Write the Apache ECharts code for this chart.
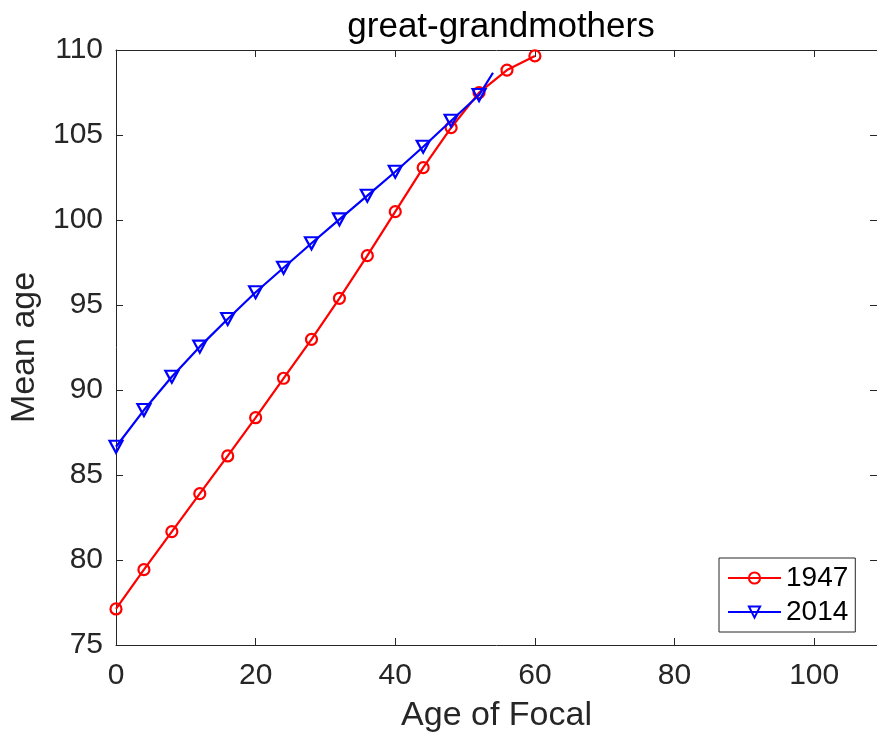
<!DOCTYPE html>
<html>
<head>
<meta charset="utf-8">
<script src="https://cdn.jsdelivr.net/npm/echarts@6/dist/echarts.min.js"></script>
<style>html,body{margin:0;padding:0;background:#fff}#c{width:877px;height:740px}</style>
</head>
<body>
<div id="c"></div>
<script>
const ages1947 = [0, 4, 8, 12, 16, 20, 24, 28, 32, 36, 40, 44, 48, 52, 56, 60];
const vals1947 = [77.12, 79.43, 81.67, 83.9, 86.12, 88.37, 90.69, 92.98, 95.39, 97.9, 100.49, 103.08, 105.43, 107.49, 108.82, 109.65];
const ages2014 = [0, 4, 8, 12, 16, 20, 24, 28, 32, 36, 40, 44, 48, 52];
const vals2014 = [86.66, 88.82, 90.78, 92.55, 94.18, 95.75, 97.19, 98.63, 100.04, 101.43, 102.84, 104.31, 105.84, 107.35];
const end2014 = [54, 108.66];
const seriesNames = ['1947', '2014'];
const xTicks = [0, 20, 40, 60, 80, 100];
const yTicks = [75, 80, 85, 90, 95, 100, 105, 110];

const FONT = "'Liberation Sans', Arial, Helvetica, sans-serif";
const AX = '#262626';

const d1947 = ages1947.map((a, i) => [a, vals1947[i]]);
const d2014 = ages2014.map((a, i) => [a, vals2014[i]]);
d2014.push({ value: end2014, symbol: 'none' });

const chart = echarts.init(document.getElementById('c'), null, { renderer: 'canvas' });
const axisCommon = {
  axisLine: { show: true, onZero: false, lineStyle: { color: AX, width: 1 } },
  axisTick: { show: true, inside: true, length: 7, lineStyle: { color: AX, width: 1 } },
  splitLine: { show: false }
};
chart.setOption({
  animation: false,
  backgroundColor: '#fff',
  title: {
    text: 'great-grandmothers',
    left: 496, top: 5, textAlign: 'center',
    textStyle: { fontFamily: FONT, fontSize: 35, fontWeight: 'normal', color: '#000' }
  },
  grid: { left: 116, right: 0, top: 50, bottom: 95, containLabel: false, outerBoundsMode: 'none' },
  legend: {
    orient: 'vertical', left: 719, top: 558,
    data: seriesNames,
    backgroundColor: '#fff', borderColor: AX, borderWidth: 1,
    padding: [6, 7, 6, 8], itemGap: 6, itemWidth: 53, itemHeight: 14,
    textStyle: { fontFamily: FONT, fontSize: 28, color: '#000' }
  },
  xAxis: [
    Object.assign({
      type: 'value', min: 0, max: 109, interval: 20, position: 'bottom',
      name: 'Age of Focal', nameLocation: 'middle', nameGap: 54,
      nameTextStyle: { fontFamily: FONT, fontSize: 34, color: AX },
      axisLabel: { fontFamily: FONT, fontSize: 30, color: AX, margin: 16, showMaxLabel: false,
        formatter: v => (xTicks.indexOf(v) >= 0 ? String(v) : '') }
    }, axisCommon),
    Object.assign({
      type: 'value', min: 0, max: 109, interval: 20, position: 'top',
      axisLabel: { show: false }
    }, axisCommon)
  ],
  yAxis: [
    Object.assign({
      type: 'value', min: 75, max: 110, interval: 5, position: 'left',
      name: 'Mean age', nameLocation: 'middle', nameGap: 68,
      nameTextStyle: { fontFamily: FONT, fontSize: 34, color: AX },
      axisLabel: { fontFamily: FONT, fontSize: 30, color: AX, margin: 13,
        formatter: v => (yTicks.indexOf(v) >= 0 ? String(v) : '') }
    }, axisCommon),
    Object.assign({
      type: 'value', min: 75, max: 110, interval: 5, position: 'right',
      axisLabel: { show: false }
    }, axisCommon)
  ],
  series: [
    {
      name: seriesNames[0], type: 'line', data: d1947,
      symbol: 'circle', symbolSize: 11, showAllSymbol: true,
      lineStyle: { color: '#ff0000', width: 2.2 },
      itemStyle: { color: 'rgba(255,255,255,0)', borderColor: '#ff0000', borderWidth: 2.2 },
      z: 3
    },
    {
      name: seriesNames[1], type: 'line', data: d2014,
      symbol: 'triangle', symbolRotate: 180, symbolSize: [13, 12], showAllSymbol: true,
      lineStyle: { color: '#0000ff', width: 2.2 },
      itemStyle: { color: 'rgba(255,255,255,0)', borderColor: '#0000ff', borderWidth: 2.2 },
      z: 4
    }
  ]
});
</script>
</body>
</html>
